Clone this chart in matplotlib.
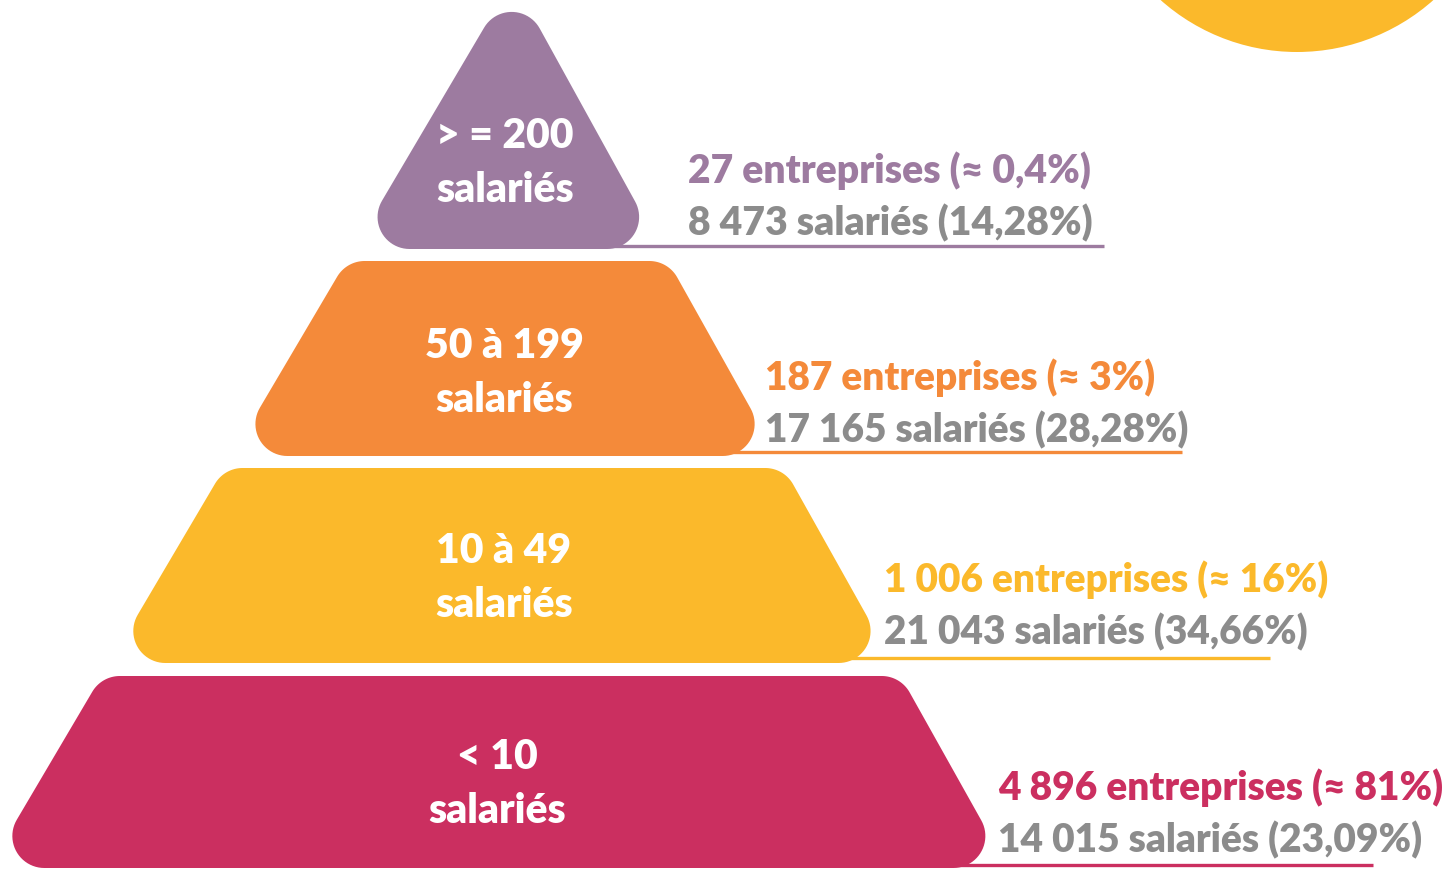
import numpy as np
import matplotlib
matplotlib.use("Agg")
import matplotlib.pyplot as plt
from matplotlib.patches import Polygon, Circle

plt.rcParams['font.family'] = ['Lato', 'DejaVu Sans']
POIDS = 800

# données
tranches = ["> = 200", "50 à 199", "10 à 49", "< 10"]
entreprises = [27, 187, 1006, 4896]
pct_entreprises = ["0,4", "3", "16", "81"]
salaries = [8473, 17165, 21043, 14015]
pct_salaries = ["14,28", "28,28", "34,66", "23,09"]

couleurs = ["#9D7BA0", "#F48A3A", "#FBB92B", "#CB2F60"]
gris = "#8C8C8C"

W, H = 1448, 870
fig = plt.figure(figsize=(W / 100, H / 100), dpi=100)
ax = fig.add_axes([0, 0, 1, 1])
ax.set_xlim(0, W)
ax.set_ylim(H, 0)
ax.axis("off")
renderer = fig.canvas.get_renderer()


# bords de la pyramide (en pixels)
def bord_g(y):
    return 337 - 0.59 * (y - 278)


def bord_d(y):
    return 677 + 0.56 * (y - 278)


def arrondi(pts, r, n=24):
    pts = np.asarray(pts, float)
    out = []
    N = len(pts)
    for i in range(N):
        p, a, b = pts[i], pts[i - 1], pts[(i + 1) % N]
        u = (a - p) / np.linalg.norm(a - p)
        v = (b - p) / np.linalg.norm(b - p)
        th = np.arccos(np.clip(u @ v, -1, 1))
        d = r / np.tan(th / 2)
        t1, t2 = p + u * d, p + v * d
        bis = (u + v) / np.linalg.norm(u + v)
        c = p + bis * r / np.sin(th / 2)
        a1 = np.arctan2(*(t1 - c)[::-1])
        a2 = np.arctan2(*(t2 - c)[::-1])
        da = (a2 - a1 + np.pi) % (2 * np.pi) - np.pi
        for t in np.linspace(0, 1, n):
            out.append(c + r * np.array([np.cos(a1 + da * t), np.sin(a1 + da * t)]))
    return np.array(out)


def ajuste(s, largeur, **kw):
    t = ax.text(0, 0, s, fontsize=20, fontweight=POIDS, **kw)
    w = t.get_window_extent(renderer).width
    t.remove()
    return 20 * largeur / w


# cercle jaune en haut à droite
ax.add_patch(Circle((1297, -152), 205, color="#FBB92B", lw=0))

# bandes : (haut, bas)
bandes = [(None, 250), (262, 457), (469, 664), (677, 869)]
r = 32
for i, (haut, bas) in enumerate(bandes):
    if haut is None:
        yA = 278 - 340 / 1.15 - 2
        pts = [(bord_g(yA), yA), (bord_d(bas), bas), (bord_g(bas), bas)]
    else:
        pts = [(bord_g(haut), haut), (bord_d(haut), haut),
               (bord_d(bas), bas), (bord_g(bas), bas)]
    ax.add_patch(Polygon(arrondi(pts, r), closed=True, color=couleurs[i], lw=0, zorder=3))

# étiquettes intérieures
cx = [505, 504, 504, 497]
base1 = [148, 358, 563, 769]
taille_int = ajuste("salariés", 138)
for i in range(4):
    ax.text(cx[i], base1[i], tranches[i], color="white", fontsize=taille_int,
            fontweight=POIDS, ha="center", va="baseline", zorder=4)
    ax.text(cx[i], base1[i] + 54, "salariés", color="white", fontsize=taille_int,
            fontweight=POIDS, ha="center", va="baseline", zorder=4)


def milliers(n):
    return f"{n:,}".replace(",", " ")


# textes de droite et soulignements
x_txt = [688, 765, 884, 998]
base_txt = [183, 390, 592, 800]
larg1 = [404, 391, 444, 445]
larg2 = [404, 423, 424, 424]
y_ligne = [247, 453, 659, 866]
fin_ligne = [1104, 1182, 1270, 1373]
for i in range(4):
    l1 = f"{milliers(entreprises[i])} entreprises (≈ {pct_entreprises[i]}%)"
    l2 = f"{milliers(salaries[i])} salariés ({pct_salaries[i]}%)"
    s = 0.5 * (ajuste(l1, larg1[i]) + ajuste(l2, larg2[i]))
    ax.text(x_txt[i], base_txt[i], l1, color=couleurs[i], fontsize=s,
            fontweight=POIDS, va="baseline", zorder=4)
    ax.text(x_txt[i], base_txt[i] + 52, l2, color=gris, fontsize=s,
            fontweight=POIDS, va="baseline", zorder=4)
    ax.plot([cx[i], fin_ligne[i]], [y_ligne[i]] * 2, color=couleurs[i],
            lw=2.4, solid_capstyle="butt", zorder=2)

fig.savefig("out.png", dpi=100)
